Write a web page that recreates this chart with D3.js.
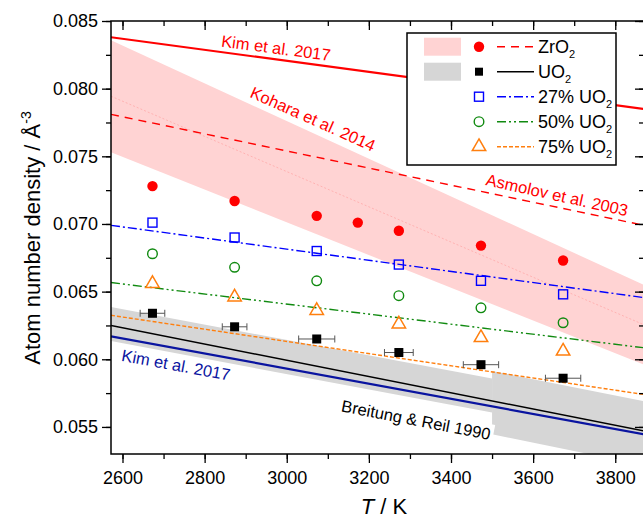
<!DOCTYPE html>
<html>
<head>
<meta charset="utf-8">
<script src="https://cdn.jsdelivr.net/npm/d3@7"></script>
<style>
  body { margin: 0; background: #fff; }
  text { font-family: "Liberation Sans", Arial, sans-serif; }
</style>
</head>
<body>
<svg id="chart" width="643" height="519"></svg>
<script>
// measured points (T in K, density in 1/A^3)
var zro2T = [2673, 2873, 3073, 3173, 3273, 3473, 3673];
var zro2 = [0.0728, 0.0717, 0.0706, 0.0701, 0.0695, 0.0684, 0.0673];
var mixT = [2673, 2873, 3073, 3273, 3473, 3673];
var uo2 = [0.0634, 0.0624, 0.0615, 0.0605, 0.0596, 0.0586];
var uo2Err = [30, 30, 44, 35, 43, 43];
var uo2_27 = [0.0701, 0.0690, 0.0680, 0.0670, 0.0658, 0.0648];
var uo2_50 = [0.0678, 0.0668, 0.0658, 0.0647, 0.0638, 0.0627];
var uo2_75 = [0.0656, 0.0646, 0.0636, 0.0626, 0.0616, 0.0606];

// fitted / literature lines, values at the two ends of the T range
var lineT = [2572, 3870];
var kimZrO2 = [0.0838, 0.0785];
var asmolov = [0.0781, 0.0699];
var uo2Fit = [0.0625, 0.0547];
var kimUO2 = [0.0617, 0.05445];
var fit27 = [0.0699, 0.06456];
var fit50 = [0.06567, 0.06085];
var fit75 = [0.06325, 0.0574];
var koharaUpper = [0.08357, 0.06549];
var koharaLower = [0.0753, 0.0596];
var koharaMid = [0.07944, 0.06255];

// Breitung & Reil band, two pieces with a step at 3500 K
var breitungT = [2572, 3500, 3500, 3870];
var breitungUpper = [0.06387, 0.05858, 0.05913, 0.0569];
var breitungLower = [0.06135, 0.05606, 0.05446, 0.05216];

var xTicks = [2600, 2800, 3000, 3200, 3400, 3600, 3800];
var yTicks = [0.055, 0.060, 0.065, 0.070, 0.075, 0.080, 0.085];

var svg = d3.select("#chart");
var pL = 111, pR = 644, pT = 21, pB = 454;

var x = d3.scaleLinear().domain([2572, 3870]).range([pL, pR]);
var y = d3.scaleLinear().domain([0.053, 0.085]).range([pB, pT]);

svg.append("defs").append("clipPath").attr("id", "clip")
  .append("rect").attr("x", pL).attr("y", pT)
  .attr("width", pR - pL).attr("height", pB - pT);

var plot = svg.append("g").attr("clip-path", "url(#clip)");

// bands
var area = d3.area().x(function(d) { return x(d.t); })
  .y0(function(d) { return y(d.lo); }).y1(function(d) { return y(d.hi); });

plot.append("path")
  .datum(lineT.map(function(t, i) { return {t: t, lo: koharaLower[i], hi: koharaUpper[i]}; }))
  .attr("d", area).attr("fill", "#ffd3d3");

var bPieces = [[0, 1], [2, 3]];
bPieces.forEach(function(p) {
  plot.append("path")
    .datum(p.map(function(i) { return {t: breitungT[i], lo: breitungLower[i], hi: breitungUpper[i]}; }))
    .attr("d", area).attr("fill", "#d6d6d6");
});

var line = d3.line().x(function(d) { return x(d[0]); }).y(function(d) { return y(d[1]); });
function drawLine(vals, color, width, dash) {
  plot.append("path")
    .datum(lineT.map(function(t, i) { return [t, vals[i]]; }))
    .attr("d", line).attr("fill", "none")
    .attr("stroke", color).attr("stroke-width", width)
    .attr("stroke-dasharray", dash || null);
}

drawLine(koharaMid, "#ffaaaa", 0.8, "2,2");
drawLine(kimZrO2, "#ff0000", 2.2);
drawLine(asmolov, "#ff0000", 1.4, "8,6");
drawLine(fit27, "#0000ff", 1.4, "9,3,2,3");
drawLine(fit50, "#108a10", 1.4, "9,3,2,3,2,3");
drawLine(fit75, "#ff7f0e", 1.4, "4,2");
drawLine(uo2Fit, "#000000", 1.4);
drawLine(kimUO2, "#0a14a0", 2.2);

// annotations
function note(txt, cx, cy, angle, color, bg) {
  var g = plot.append("g").attr("transform", "translate(" + cx + "," + cy + ") rotate(" + angle + ")");
  var r = bg ? g.append("rect").attr("fill", "#fff") : null;
  var t = g.append("text").attr("text-anchor", "middle").attr("dy", "0.35em")
    .attr("font-size", 16.5).attr("fill", color).text(txt);
  if (r) {
    var b = t.node().getBBox();
    r.attr("x", b.x - 3).attr("y", b.y - 1).attr("width", b.width + 6).attr("height", b.height + 2);
  }
}
note("Kim et al. 2017", 276, 48, 7.5, "#ff0000");
note("Kohara et al. 2014", 313, 119, 24, "#ff0000");
note("Asmolov et al. 2003", 557, 195, 12.5, "#ff0000");
note("Kim et al. 2017", 176, 365, 10.5, "#0a14a0");
note("Breitung & Reil 1990", 416, 420, 11, "#000000", true);

// symbols
plot.selectAll(".zr").data(zro2T).enter().append("circle")
  .attr("cx", function(d) { return x(d); })
  .attr("cy", function(d, i) { return y(zro2[i]); })
  .attr("r", 5.2).attr("fill", "#ff0000");

plot.selectAll(".s27").data(mixT).enter().append("rect")
  .attr("x", function(d) { return x(d) - 4.5; })
  .attr("y", function(d, i) { return y(uo2_27[i]) - 4.5; })
  .attr("width", 9).attr("height", 9)
  .attr("fill", "none").attr("stroke", "#0000ff").attr("stroke-width", 1.4);

plot.selectAll(".s50").data(mixT).enter().append("circle")
  .attr("cx", function(d) { return x(d); })
  .attr("cy", function(d, i) { return y(uo2_50[i]); })
  .attr("r", 4.8).attr("fill", "none").attr("stroke", "#108a10").attr("stroke-width", 1.4);

var tri = d3.symbol().type(d3.symbolTriangle).size(78);
plot.selectAll(".s75").data(mixT).enter().append("path")
  .attr("d", tri)
  .attr("transform", function(d, i) { return "translate(" + x(d) + "," + y(uo2_75[i]) + ")"; })
  .attr("fill", "none").attr("stroke", "#ff7f0e").attr("stroke-width", 1.5);

var eb = plot.selectAll(".eb").data(mixT).enter().append("g").attr("stroke", "#555").attr("stroke-width", 1);
eb.append("line")
  .attr("x1", function(d, i) { return x(d - uo2Err[i]); })
  .attr("x2", function(d, i) { return x(d + uo2Err[i]); })
  .attr("y1", function(d, i) { return y(uo2[i]); })
  .attr("y2", function(d, i) { return y(uo2[i]); });
[-1, 1].forEach(function(s) {
  eb.append("line")
    .attr("x1", function(d, i) { return x(d + s * uo2Err[i]); })
    .attr("x2", function(d, i) { return x(d + s * uo2Err[i]); })
    .attr("y1", function(d, i) { return y(uo2[i]) - 3.5; })
    .attr("y2", function(d, i) { return y(uo2[i]) + 3.5; });
});
plot.selectAll(".uo2").data(mixT).enter().append("rect")
  .attr("x", function(d) { return x(d) - 4.5; })
  .attr("y", function(d, i) { return y(uo2[i]) - 4.5; })
  .attr("width", 9).attr("height", 9).attr("fill", "#000");

// axes
var xMinor = d3.range(2600, 3900, 100);
var yMinor = d3.range(0.0525, 0.0851, 0.0025).filter(function(v) { return v > 0.053; });

function styleAxis(g) {
  g.attr("font-size", 18).attr("font-family", "'Liberation Sans', Arial, sans-serif");
  g.select(".domain").remove();
  g.selectAll("line").attr("stroke", "#000").attr("stroke-width", 1.3);
  g.selectAll("text").attr("fill", "#000");
}

svg.append("g").attr("transform", "translate(0," + pB + ")")
  .call(d3.axisBottom(x).tickValues(xMinor).tickSize(5).tickFormat("")).call(styleAxis);
svg.append("g").attr("transform", "translate(0," + pB + ")")
  .call(d3.axisBottom(x).tickValues(xTicks).tickSize(9).tickPadding(8).tickFormat(d3.format("d"))).call(styleAxis);
svg.append("g").attr("transform", "translate(0," + pT + ")")
  .call(d3.axisTop(x).tickValues(xMinor).tickSize(-5).tickFormat("")).call(styleAxis);
svg.append("g").attr("transform", "translate(0," + pT + ")")
  .call(d3.axisTop(x).tickValues(xTicks).tickSize(-9).tickFormat("")).call(styleAxis);

svg.append("g").attr("transform", "translate(" + pL + ",0)")
  .call(d3.axisLeft(y).tickValues(yMinor).tickSize(5).tickFormat("")).call(styleAxis);
svg.append("g").attr("transform", "translate(" + pL + ",0)")
  .call(d3.axisLeft(y).tickValues(yTicks).tickSize(9).tickPadding(4).tickFormat(d3.format(".3f"))).call(styleAxis);
svg.append("g").attr("transform", "translate(" + pR + ",0)")
  .call(d3.axisRight(y).tickValues(yTicks).tickSize(-9).tickFormat("")).call(styleAxis);
svg.append("g").attr("transform", "translate(" + pR + ",0)")
  .call(d3.axisRight(y).tickValues(yMinor).tickSize(-5).tickFormat("")).call(styleAxis);

svg.append("rect").attr("x", pL).attr("y", pT)
  .attr("width", pR - pL).attr("height", pB - pT)
  .attr("fill", "none").attr("stroke", "#000").attr("stroke-width", 1.5);

// axis titles
var xt = svg.append("text").attr("x", 384).attr("y", 514)
  .attr("text-anchor", "middle").attr("font-size", 22);
xt.append("tspan").attr("font-style", "italic").text("T");
xt.append("tspan").text(" / K");

var yt = svg.append("text").attr("transform", "translate(40,238) rotate(-90)")
  .attr("text-anchor", "middle").attr("font-size", 22);
yt.append("tspan").text("Atom number density / Å");
yt.append("tspan").attr("dy", -9).attr("font-size", 14).text("-3");

// legend
var lg = svg.append("g");
lg.append("rect").attr("x", 407).attr("y", 33).attr("width", 209).attr("height", 132)
  .attr("fill", "#fff").attr("stroke", "#000").attr("stroke-width", 1.5);

var legendNames = ["ZrO", "UO", "27% UO", "50% UO", "75% UO"];
var legendColors = ["#ff0000", "#000000", "#0000ff", "#108a10", "#ff7f0e"];
var legendDash = ["8,6", null, "9,3,2,3", "9,3,2,3,2,3", "4,2"];
var rowY = function(i) { return 46.7 + i * 25; };

lg.append("rect").attr("x", 424).attr("y", rowY(0) - 9).attr("width", 37).attr("height", 18).attr("fill", "#ffd3d3");
lg.append("rect").attr("x", 424).attr("y", rowY(1) - 9).attr("width", 37).attr("height", 18).attr("fill", "#d6d6d6");

legendNames.forEach(function(name, i) {
  var cy = rowY(i);
  lg.append("line").attr("x1", 497).attr("x2", 534).attr("y1", cy).attr("y2", cy)
    .attr("stroke", legendColors[i]).attr("stroke-width", 1.4).attr("stroke-dasharray", legendDash[i]);
  var t = lg.append("text").attr("x", 538).attr("y", cy + 6).attr("font-size", 18);
  t.append("tspan").text(name);
  t.append("tspan").attr("dy", 5).attr("font-size", 11).text("2");
});
var mx = 479;
lg.append("circle").attr("cx", mx).attr("cy", rowY(0)).attr("r", 5.2).attr("fill", "#ff0000");
lg.append("rect").attr("x", mx - 4).attr("y", rowY(1) - 4).attr("width", 8).attr("height", 8).attr("fill", "#000");
lg.append("rect").attr("x", mx - 4.5).attr("y", rowY(2) - 4.5).attr("width", 9).attr("height", 9)
  .attr("fill", "none").attr("stroke", "#0000ff").attr("stroke-width", 1.4);
lg.append("circle").attr("cx", mx).attr("cy", rowY(3)).attr("r", 4.8)
  .attr("fill", "none").attr("stroke", "#108a10").attr("stroke-width", 1.4);
lg.append("path").attr("d", tri).attr("transform", "translate(" + mx + "," + rowY(4) + ")")
  .attr("fill", "none").attr("stroke", "#ff7f0e").attr("stroke-width", 1.5);
</script>
</body>
</html>
